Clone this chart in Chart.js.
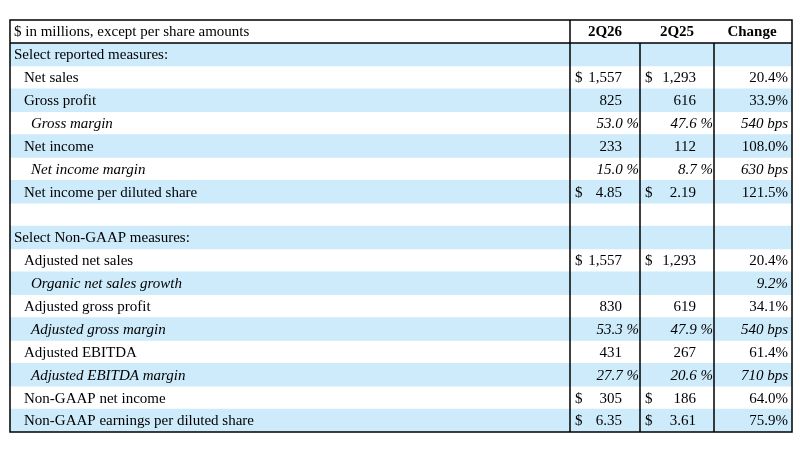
<!DOCTYPE html>
<html>
<head>
<meta charset="utf-8">
<script src="https://cdn.jsdelivr.net/npm/chart.js@4"></script>
<style>
  html, body { margin: 0; padding: 0; background: #fff; }
  #wrap { width: 800px; height: 450px; }
</style>
</head>
<body>
<div id="wrap"><canvas id="tableChart"></canvas></div>
<script>
// Table data
const headerLabel = "$ in millions, except per share amounts";
const columnTitles = ["2Q26", "2Q25", "Change"];
const rowLabels = [
  "Select reported measures:", "Net sales", "Gross profit", "Gross margin",
  "Net income", "Net income margin", "Net income per diluted share", "",
  "Select Non-GAAP measures:", "Adjusted net sales", "Organic net sales growth",
  "Adjusted gross profit", "Adjusted gross margin", "Adjusted EBITDA",
  "Adjusted EBITDA margin", "Non-GAAP net income", "Non-GAAP earnings per diluted share"
];
// 0 = section header, 1 = measure, 2 = italic ratio
const rowLevels = [0, 1, 1, 2, 1, 2, 1, 0, 0, 1, 2, 1, 2, 1, 2, 1, 1];
const values2Q26 = ["", "1,557", "825", "53.0", "233", "15.0", "4.85", "", "", "1,557", "", "830", "53.3", "431", "27.7", "305", "6.35"];
const values2Q25 = ["", "1,293", "616", "47.6", "112", "8.7", "2.19", "", "", "1,293", "", "619", "47.9", "267", "20.6", "186", "3.61"];
const changes = ["", "20.4%", "33.9%", "540 bps", "108.0%", "630 bps", "121.5%", "", "", "20.4%", "9.2%", "34.1%", "540 bps", "61.4%", "710 bps", "64.0%", "75.9%"];
const dollarRows = [1, 6, 9, 15, 16];

const rowIdx = rowLabels.map((_, i) => i);
const stripeData = rowIdx.map(i => i % 2 === 0 ? [10, 792] : null);

const BLUE = "#cdebfb";
const FONT = '"Liberation Serif", "Times New Roman", serif';

const tablePlugin = {
  id: "tableText",
  afterDatasetsDraw(chart) {
    const ctx = chart.ctx;
    const xs = chart.scales.x, ys = chart.scales.y;
    const left = xs.getPixelForValue(10), right = xs.getPixelForValue(792);
    const c1 = xs.getPixelForValue(570), c2 = xs.getPixelForValue(640), c3 = xs.getPixelForValue(714);
    const top = chart.chartArea.top, bottom = chart.chartArea.bottom;
    const headTop = 20;
    ctx.save();
    ctx.fillStyle = "#000";
    ctx.textBaseline = "middle";
    // header
    const hy = (headTop + top) / 2 + 1;
    ctx.font = "15px " + FONT;
    ctx.textAlign = "left";
    ctx.fillText(headerLabel, left + 4, hy);
    ctx.font = "bold 15px " + FONT;
    ctx.textAlign = "center";
    ctx.fillText(columnTitles[0], (c1 + c2) / 2, hy);
    ctx.fillText(columnTitles[1], (c2 + c3) / 2, hy);
    ctx.fillText(columnTitles[2], (c3 + right) / 2 - 1, hy);
    // rows
    rowIdx.forEach(i => {
      const y = ys.getPixelForValue(i) + 1;
      const lv = rowLevels[i];
      const it = lv === 2;
      ctx.font = (it ? "italic " : "") + "15px " + FONT;
      ctx.textAlign = "left";
      ctx.fillText(rowLabels[i], left + (lv === 0 ? 4 : lv === 1 ? 14 : 21), y);
      const isDollar = dollarRows.includes(i);
      [[values2Q26[i], c1, c2], [values2Q25[i], c2, c3]].forEach(([v, a, b]) => {
        if (!v) return;
        if (it) {
          ctx.textAlign = "right";
          ctx.fillText(v + " %", b - 1, y);
        } else {
          ctx.textAlign = "right";
          ctx.fillText(v, b - 18, y);
          if (isDollar) { ctx.textAlign = "left"; ctx.fillText("$", a + 5, y); }
        }
      });
      if (changes[i]) { ctx.textAlign = "right"; ctx.fillText(changes[i], right - 4, y); }
    });
    // lines
    ctx.strokeStyle = "#000";
    ctx.lineWidth = 1.5;
    ctx.strokeRect(left, headTop, right - left, bottom - headTop);
    ctx.beginPath();
    ctx.moveTo(left, top); ctx.lineTo(right, top);
    ctx.moveTo(c1, headTop); ctx.lineTo(c1, bottom);
    ctx.moveTo(c2, top); ctx.lineTo(c2, bottom);
    ctx.moveTo(c3, top); ctx.lineTo(c3, bottom);
    ctx.stroke();
    ctx.restore();
  }
};

new Chart(document.getElementById("tableChart").getContext("2d"), {
  type: "bar",
  data: {
    labels: rowLabels,
    datasets: [{
      data: stripeData,
      backgroundColor: BLUE,
      borderWidth: 0,
      barPercentage: 1,
      categoryPercentage: 1
    }]
  },
  options: {
    indexAxis: "y",
    responsive: true,
    maintainAspectRatio: false,
    animation: false,
    layout: { padding: { left: 0, right: 0, top: 43, bottom: 18 } },
    scales: {
      x: { type: "linear", min: 0, max: 800, display: false },
      y: { type: "category", display: false }
    },
    plugins: { legend: { display: false }, tooltip: { enabled: false } }
  },
  plugins: [tablePlugin]
});
</script>
</body>
</html>
